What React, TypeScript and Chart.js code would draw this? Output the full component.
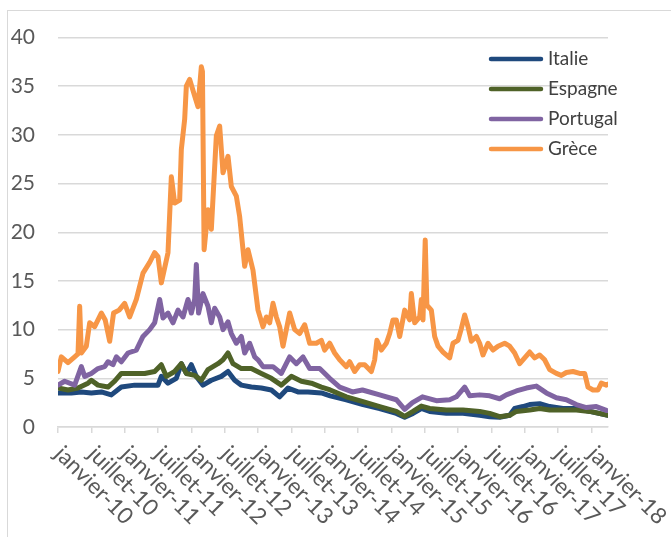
import React, { useEffect, useRef } from 'react';
import { Chart, registerables } from 'chart.js';

Chart.register(...registerables);

// x = months since janvier-10, y = spread value
const tickLabels = [
  'janvier-10', 'juillet-10', 'janvier-11', 'juillet-11', 'janvier-12', 'juillet-12',
  'janvier-13', 'juillet-13', 'janvier-14', 'juillet-14', 'janvier-15', 'juillet-15',
  'janvier-16', 'juillet-16', 'janvier-17', 'juillet-17', 'janvier-18',
];
const seriesNames = ['Italie', 'Espagne', 'Portugal', 'Grèce'];
const seriesColors = ['#1F497D', '#4F6228', '#8064A2', '#F79646'];

const italie: [number, number][] = [
  [0, 3.5], [2.4, 3.5], [4.2, 3.6], [6, 3.5], [7.8, 3.6], [9.6, 3.3], [11.4, 4.1], [13.8, 4.3],
  [16.2, 4.3], [18, 4.3], [18.6, 5.2], [19.8, 4.5], [21.3, 5.0], [22.2, 6.5], [23.1, 5.5], [24, 6.4],
  [24.9, 5.2], [26.1, 4.3], [27.6, 4.8], [29.4, 5.2], [30.6, 5.7], [31.8, 4.8], [33, 4.3], [34.8, 4.1],
  [36.6, 4.0], [38.4, 3.8], [39.9, 3.1], [41.4, 4.0], [43.2, 3.6], [45, 3.6], [47.4, 3.5], [49, 3.2],
  [51.9, 2.8], [54.9, 2.3], [57.9, 1.9], [60.9, 1.4], [62.4, 1.0], [63.9, 1.4], [65.4, 1.9], [66.9, 1.6],
  [69.9, 1.4], [72.9, 1.4], [75.9, 1.2], [77.7, 1.06], [79.5, 1.0], [81.3, 1.2], [82.2, 1.9], [83.7, 2.1],
  [84.9, 2.3], [86.7, 2.4], [88.5, 2.1], [90.9, 1.9], [93.3, 1.9], [95.7, 1.6], [99, 1.2],
];

const espagne: [number, number][] = [
  [0, 4.0], [1.8, 3.8], [3.6, 4.0], [5.4, 4.5], [6, 4.8], [7.2, 4.3], [9, 4.1], [10.2, 4.7],
  [11.4, 5.5], [13.8, 5.5], [15.6, 5.5], [17.4, 5.7], [18.6, 6.4], [19.5, 5.2], [21, 5.7], [22.2, 6.5],
  [23.1, 5.5], [24.6, 5.3], [25.8, 4.8], [27, 5.9], [28.8, 6.5], [29.7, 6.9], [30.6, 7.6], [31.5, 6.5],
  [33, 6.0], [34.8, 6.0], [36.6, 5.5], [38.4, 5.0], [40.2, 4.3], [42, 5.2], [43.8, 4.7], [45.6, 4.5],
  [47.4, 4.1], [49, 3.8], [51.9, 3.1], [54.9, 2.6], [57.9, 2.1], [60.9, 1.6], [62.4, 1.1], [63.9, 1.6],
  [65.4, 2.15], [66.9, 1.9], [69.9, 1.75], [72.9, 1.75], [75.9, 1.6], [77.7, 1.4], [79.5, 1.06], [81.3, 1.2],
  [82.5, 1.6], [84.9, 1.75], [86.7, 1.9], [88.5, 1.75], [90.9, 1.75], [93.3, 1.75], [95.7, 1.6], [99, 1.2],
];

const portugal: [number, number][] = [
  [0, 4.3], [1.2, 4.7], [3, 4.3], [4.2, 6.2], [4.8, 5.2], [6, 5.5], [7.2, 6.0], [8.4, 6.2],
  [9, 6.7], [9.9, 6.4], [10.5, 7.2], [11.4, 6.7], [12.6, 7.6], [14.1, 7.9], [15.3, 9.3], [16.5, 10],
  [17.4, 10.7], [18.3, 13.1], [18.9, 11.2], [19.8, 11.7], [20.7, 10.7], [21.6, 12], [22.5, 11.3], [23.4, 13.1],
  [24, 11.7], [24.6, 13.1], [24.9, 16.7], [25.3, 11.7], [26.1, 13.7], [27, 12.4], [27.6, 10.7], [28.2, 12.2],
  [29.1, 11.3], [29.7, 10], [30.6, 10.8], [31.2, 9.6], [32.1, 8.6], [33, 9.3], [33.6, 7.6], [34.5, 8.6],
  [35.4, 7.2], [36, 6.9], [36.9, 6.2], [38.7, 6.2], [40.2, 5.5], [41.7, 7.2], [42.9, 6.5], [44.1, 7.2],
  [45.3, 6.0], [47.1, 6.0], [48.9, 5.0], [50.7, 4.1], [53, 3.6], [54.8, 3.8], [57.9, 3.3], [60.9, 2.8],
  [62.4, 1.8], [63.8, 2.5], [65.6, 3.1], [68.1, 2.7], [70.5, 2.8], [71.7, 3.1], [73.2, 4.1], [74.1, 3.2],
  [75.9, 3.3], [77.7, 3.2], [79.5, 2.9], [80.7, 3.3], [82.5, 3.7], [84.3, 4.0], [86.1, 4.2], [87.9, 3.5],
  [89.7, 3.0], [91.5, 2.8], [93.3, 2.3], [95.1, 2.0], [96.9, 2.1], [98.7, 1.7],
];

const grece: [number, number][] = [
  [0, 5.7], [0.6, 7.2], [1.8, 6.6], [3, 7.2], [3.6, 7.5], [3.9, 12.4], [4.2, 7.6], [5.1, 8.3],
  [5.7, 10.7], [6.6, 10.3], [7.8, 11.7], [8.5, 11.0], [9.3, 8.8], [10, 11.7], [11, 12.0], [12, 12.7],
  [12.9, 11.3], [14.1, 13.1], [15.3, 15.8], [16.5, 16.9], [17.4, 17.9], [18, 17.5], [18.6, 14.8], [19.8, 17.9],
  [20.4, 25.7], [21, 23], [21.9, 23.3], [22.2, 28.5], [22.8, 31.6], [23.1, 35], [23.7, 35.7], [24.6, 34],
  [25.2, 32.9], [25.8, 37.0], [26.0, 36.5], [26.3, 18.2], [27, 22.3], [27.6, 20.3], [28.5, 29.9], [29.1, 30.9],
  [29.7, 26.1], [30.6, 27.8], [31.2, 24.7], [32.1, 23.7], [32.7, 21.6], [33.6, 16.5], [34.2, 18.2], [35.1, 16.1],
  [36, 12.0], [36.9, 10.3], [37.5, 11.3], [38.1, 10.7], [38.7, 12.7], [39.3, 11.3], [39.9, 10.3], [40.5, 8.3],
  [41.7, 11.7], [42.6, 10], [43.5, 9.6], [44.4, 10.5], [45.3, 8.6], [46.5, 8.6], [47.4, 8.9], [48, 7.9],
  [48.9, 8.6], [49.8, 7.6], [50.7, 6.9], [51.9, 6.2], [52.5, 6.7], [53.4, 5.7], [54.3, 6.4], [55.2, 6.4],
  [56.4, 5.7], [57, 6.9], [57.4, 8.9], [58.2, 7.9], [59.1, 8.6], [59.7, 9.6], [60.3, 11.0], [60.9, 11.0],
  [61.5, 9.3], [62.4, 12.0], [63.3, 11], [63.6, 13.7], [64.2, 10.7], [65.1, 11.3], [65.4, 13.1], [65.7, 11],
  [66.1, 19.2], [66.4, 12.5], [67.2, 12.0], [67.8, 9.3], [68.4, 8.3], [69.3, 7.7], [70.5, 7.1], [71.1, 8.6],
  [72, 8.9], [72.6, 10.1], [73.2, 11.5], [73.8, 10.3], [74.4, 8.8], [75.3, 9.3], [75.9, 8.6], [76.5, 7.4],
  [77.4, 8.6], [78.3, 7.9], [79.2, 8.3], [80.4, 8.6], [81.3, 8.3], [82.2, 7.6], [83.1, 6.5], [84, 7.1],
  [84.9, 7.7], [85.8, 7.1], [86.7, 7.4], [87.6, 6.9], [88.5, 5.9], [89.7, 5.5], [90.6, 5.3], [91.5, 5.6],
  [92.7, 5.7], [93.9, 5.5], [94.8, 5.5], [95.4, 4.1], [96.3, 3.8], [97.2, 3.8], [97.8, 4.5], [98.7, 4.3],
  [99, 4.4],
];

const yTicks = [0, 5, 10, 15, 20, 25, 30, 35, 40];

const FONT = 'Lato, "Open Sans", sans-serif';

export default function App() {
  const ref = useRef<HTMLCanvasElement>(null);

  useEffect(() => {
    if (!ref.current) return;
    const all = [italie, espagne, portugal, grece];

    const overlay = {
      id: 'overlay',
      afterDraw(chart: any) {
        const ctx = chart.ctx as CanvasRenderingContext2D;
        const xs = chart.scales.x;
        ctx.save();
        // rotated x labels
        ctx.font = `22.5px ${FONT}`;
        ctx.fillStyle = '#595959';
        ctx.textAlign = 'left';
        ctx.textBaseline = 'middle';
        tickLabels.forEach((lab, i) => {
          const px = xs.getPixelForValue(i * 6);
          ctx.save();
          ctx.translate(px + 0.5, xs.top + 23);
          ctx.rotate(Math.PI / 4);
          ctx.fillText(lab, 0, 0);
          ctx.restore();
        });
        // legend
        seriesNames.forEach((name, i) => {
          const y = 59 + i * 30;
          ctx.strokeStyle = seriesColors[i];
          ctx.lineWidth = 4.5;
          ctx.lineCap = 'round';
          ctx.beginPath();
          ctx.moveTo(491, y);
          ctx.lineTo(541, y);
          ctx.stroke();
          ctx.font = `19px ${FONT}`;
          ctx.fillStyle = '#404040';
          ctx.fillText(name, 548, y);
        });
        ctx.restore();
      },
    };

    const chart = new Chart(ref.current, {
      type: 'line',
      data: {
        datasets: all.map((s, i) => ({
          label: seriesNames[i],
          data: s.map(([x, y]) => ({ x, y })),
          borderColor: seriesColors[i],
          backgroundColor: seriesColors[i],
          borderWidth: 5,
          pointRadius: 0,
          tension: 0,
          fill: false,
          borderJoinStyle: 'round',
          borderCapStyle: 'round',
          order: 4 - i,
        })),
      },
      options: {
        responsive: false,
        animation: false,
        layout: { padding: { top: 37.5, right: 63, left: 0, bottom: 0 } },
        plugins: { legend: { display: false }, tooltip: { enabled: false } },
        scales: {
          x: {
            type: 'linear',
            min: 0,
            max: 99,
            afterBuildTicks: (s: any) => {
              s.ticks = tickLabels.map((_, i) => ({ value: i * 6 }));
            },
            afterFit: (s: any) => {
              s.height = 110;
            },
            ticks: { display: false },
            grid: { drawOnChartArea: false, drawTicks: true, tickLength: 6, color: '#d9d9d9', lineWidth: 1.5 },
            border: { display: true, color: '#d9d9d9', width: 1.5 },
          },
          y: {
            min: 0,
            max: 40,
            afterBuildTicks: (s: any) => {
              s.ticks = yTicks.map((v) => ({ value: v }));
            },
            afterFit: (s: any) => {
              s.width = 58;
            },
            ticks: { padding: 23, color: '#595959', font: { family: FONT, size: 21 } },
            grid: { color: '#d9d9d9', lineWidth: 1.5, drawTicks: false },
            border: { display: false },
          },
        },
      },
      plugins: [overlay],
    });
    return () => chart.destroy();
  }, []);

  return (
    <>
      <div
        style={{
          position: 'fixed',
          left: 7,
          top: 10,
          width: 720,
          height: 600,
          border: '1px solid #d9d9d9',
          boxSizing: 'border-box',
        }}
      />
      <canvas ref={ref} width={671} height={537} style={{ position: 'fixed', left: 0, top: 0 }} />
    </>
  );
}
